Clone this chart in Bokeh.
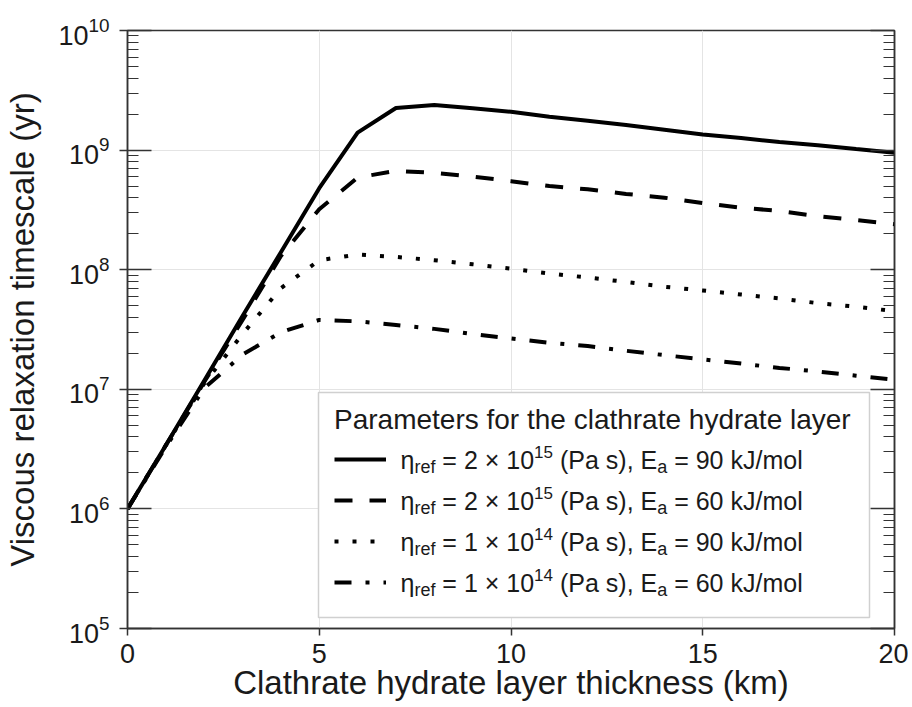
from bokeh.plotting import figure
from bokeh.models import (Range1d, LogAxis, FixedTicker, Legend, LegendItem, Label,
                          CustomJSTickFormatter, BoxAnnotation)
from bokeh.embed import file_html
from bokeh.resources import INLINE

# ---------------- data ----------------
THICKNESS_KM = [0, 1, 2, 3, 4, 5, 6, 7, 8, 9, 10,
                11, 12, 13, 14, 15, 16, 17, 18, 19, 20]

TAU_ETA2E15_EA90 = [1.0e6, 3.4e6, 1.18e7, 4.1e7, 1.4e8, 4.8e8, 1.4e9, 2.25e9, 2.38e9,
                    2.24e9, 2.09e9, 1.9e9, 1.76e9, 1.62e9, 1.48e9, 1.35e9, 1.26e9,
                    1.17e9, 1.1e9, 1.02e9, 9.5e8]
TAU_ETA2E15_EA60 = [1.0e6, 3.4e6, 1.15e7, 3.8e7, 1.3e8, 3.2e8, 5.9e8, 6.7e8, 6.45e8,
                    6.0e8, 5.5e8, 5.0e8, 4.7e8, 4.3e8, 4.0e8, 3.6e8, 3.3e8,
                    3.1e8, 2.8e8, 2.6e8, 2.4e8]
TAU_ETA1E14_EA90 = [1.0e6, 3.4e6, 1.12e7, 2.9e7, 7.0e7, 1.2e8, 1.34e8, 1.28e8, 1.2e8,
                    1.11e8, 1.02e8, 9.3e7, 8.6e7, 7.9e7, 7.2e7, 6.7e7, 6.2e7,
                    5.75e7, 5.25e7, 4.9e7, 4.5e7]
TAU_ETA1E14_EA60 = [1.0e6, 3.3e6, 1.02e7, 1.95e7, 3.0e7, 3.8e7, 3.7e7, 3.45e7, 3.2e7,
                    2.9e7, 2.66e7, 2.45e7, 2.3e7, 2.1e7, 1.93e7, 1.78e7, 1.64e7,
                    1.51e7, 1.41e7, 1.3e7, 1.2e7]

SERIES = [TAU_ETA2E15_EA90, TAU_ETA2E15_EA60, TAU_ETA1E14_EA90, TAU_ETA1E14_EA60]
ETA_COEF = ["2", "2", "1", "1"]
ETA_EXP = ["15", "15", "14", "14"]
EA_KJ = ["90", "60", "90", "60"]

X_TICKS = [0, 5, 10, 15, 20]
Y_TICKS = [1e5, 1e6, 1e7, 1e8, 1e9, 1e10]

LEGEND_TITLE = "Parameters for the clathrate hydrate layer"
X_TITLE = "Clathrate hydrate layer thickness (km)"
Y_TITLE = "Viscous relaxation timescale (yr)"

# ---------------- styles ----------------
FONT = "Liberation Sans"
TXT = "#1a1a1a"
DASHES = ["solid", "18 17", "4 14", "17 14 4 14"]

BL, BR, BT, BB = 127, 14, 30, 78
FW, FH = 767, 598
W, H = BL + FW + BR, BT + FH + BB
PAGE_DX, PAGE_DY = 0, 0          # the page template has no body margin

p = figure(width=W, height=H, x_range=Range1d(0, 20), y_range=Range1d(1e5, 1e10),
           y_axis_type="log", output_backend="svg", toolbar_location=None,
           min_border_left=BL, min_border_right=BR, min_border_top=BT,
           min_border_bottom=BB, background_fill_color="white",
           border_fill_color="white")
p.outline_line_color = "#333333"
p.outline_line_width = 1.5

minor = [m * 10 ** e for e in range(5, 10) for m in range(2, 10)]
yticker = FixedTicker(ticks=Y_TICKS, minor_ticks=minor)
xticker = FixedTicker(ticks=X_TICKS)

xa = p.xaxis[0]
xa.ticker = xticker
xa.axis_label = X_TITLE
xa.axis_label_text_font = FONT
xa.axis_label_text_font_size = "33px"
xa.axis_label_text_font_style = "normal"
xa.axis_label_text_color = TXT
xa.axis_label_standoff = -2
xa.major_label_text_font = FONT
xa.major_label_text_font_size = "27px"
xa.major_label_text_color = TXT
xa.major_label_standoff = 8
xa.major_tick_in = 0
xa.major_tick_out = 7
xa.minor_tick_in = 0
xa.minor_tick_out = 0
xa.axis_line_color = "#333333"
xa.axis_line_width = 1.5
xa.major_tick_line_color = "#333333"
xa.major_tick_line_width = 1.5

ya = p.yaxis[0]
ya.ticker = yticker
ya.axis_label = Y_TITLE
ya.axis_label_text_font = FONT
ya.axis_label_text_font_size = "33px"
ya.axis_label_text_font_style = "normal"
ya.axis_label_text_color = TXT
ya.axis_label_standoff = 14
ya.major_label_text_font = FONT
ya.major_label_text_font_size = "27px"
ya.major_label_text_color = TXT
ya.major_label_standoff = 10
ya.major_tick_in = 24
ya.major_tick_out = 8
ya.minor_tick_in = 11
ya.minor_tick_out = 0
ya.axis_line_color = "#333333"
ya.axis_line_width = 1.5
ya.major_tick_line_color = "#333333"
ya.major_tick_line_width = 1.5
ya.minor_tick_line_color = "#333333"
ya.minor_tick_line_width = 1.2

ra = LogAxis(ticker=yticker, formatter=CustomJSTickFormatter(code="return ''"),
             major_label_standoff=0, major_tick_in=24, major_tick_out=0,
             minor_tick_in=11, minor_tick_out=0, axis_line_color="#333333",
             axis_line_width=1.5, major_tick_line_color="#333333",
             major_tick_line_width=1.5, minor_tick_line_color="#333333",
             minor_tick_line_width=1.2)
p.add_layout(ra, "right")

p.xgrid.ticker = xticker
p.ygrid.ticker = yticker
p.xgrid.grid_line_color = "#e4e4e4"
p.ygrid.grid_line_color = "#e4e4e4"
p.xgrid.grid_line_width = 1
p.ygrid.grid_line_width = 1

renderers = []
for ys, dash in zip(SERIES, DASHES):
    r = p.line(THICKNESS_KM, ys, line_color="black", line_width=4, line_dash=dash)
    renderers.append(r)

# ---------------- helpers: page pixel -> data position (legend layout) -------
FL, FT = PAGE_DX + BL, PAGE_DY + BT     # page position of the frame


def px_x(px):
    return (px - FL) / FW * 20.0


def px_y(py):
    return 10 ** (10 - (py - FT) / FH * 5.0)


# legend box (opaque, drawn beneath the entry texts)
p.add_layout(BoxAnnotation(left=px_x(318), right=px_x(869), top=px_y(392),
                           bottom=px_y(617), fill_color="white", fill_alpha=1.0,
                           line_color="#d0d0d0", line_width=1.5, line_alpha=1.0))

# legend (title and line samples only; transparent)
legend = Legend(items=[LegendItem(label=" ", renderers=[r]) for r in renderers],
                location=(207, 30), title=LEGEND_TITLE,
                title_text_font=FONT, title_text_font_size="28px",
                title_text_font_style="normal", title_text_color=TXT,
                title_standoff=7, padding=0, spacing=9, margin=0,
                glyph_width=52, glyph_height=32, label_height=32,
                label_width=440, label_standoff=8,
                label_text_font_size="25px",
                border_line_color=None, background_fill_alpha=0.0)
p.add_layout(legend, "center")

ADV = {' ': 278, '=': 584, '\u00d7': 584, '(': 333, ')': 333, 'P': 667, 'a': 556,
       's': 500, ',': 278, 'E': 667, 'k': 500, 'J': 500, '/': 278, 'm': 833,
       'o': 556, 'l': 222, 'r': 333, 'e': 556, 'f': 278, '\u03b7': 556}


def width(t, size):
    return sum(ADV.get(c, 556) for c in t) * size / 1000.0


MAIN, SUB, SUP = 25, 18, 17
ROW_CENTER_PX = [459, 500, 541, 582]
TEXT_LEFT_PX = 400
# vertical offsets (px) of the middle of each piece relative to the main text middle
Y_OFF = {"main": 0, "sub": -7.5, "sup": 8}
for i in range(4):
    parts = [("\u03b7", "main"), ("ref", "sub"),
             (" = " + ETA_COEF[i] + " \u00d7 10", "main"), (ETA_EXP[i], "sup"),
             (" (Pa s), E", "main"), ("a", "sub"),
             (" = " + EA_KJ[i] + " kJ/mol", "main")]
    xo = 0.0
    for t, kind in parts:
        size = {"main": MAIN, "sub": SUB, "sup": SUP}[kind]
        lead = len(t) - len(t.lstrip(" "))
        xo += width(t[:lead], size)          # svg drops leading blanks
        core = t.strip(" ")
        p.add_layout(Label(x=px_x(TEXT_LEFT_PX), y=px_y(ROW_CENTER_PX[i]),
                           x_offset=xo, y_offset=Y_OFF[kind], text=core,
                           text_font=FONT, text_font_size=f"{size}px",
                           text_color=TXT, text_baseline="middle",
                           text_align="left"))
        xo += width(t[lead:], size)

open("out.html", "w").write(file_html(p, INLINE))
